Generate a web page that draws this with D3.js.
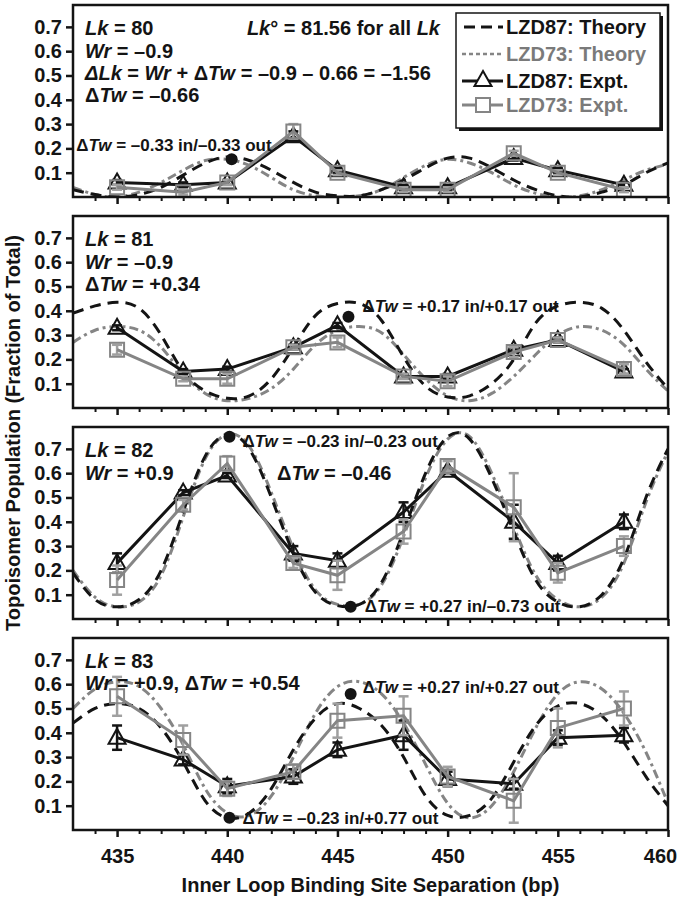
<!DOCTYPE html>
<html><head><meta charset="utf-8">
<script src="https://cdn.jsdelivr.net/npm/d3@7"></script>
<style>
body{margin:0;background:#fff}
svg{display:block}
text{font-family:"Liberation Sans",Arial,Helvetica,sans-serif;font-weight:bold}
</style>
</head><body>
<svg id="c" width="683" height="899"></svg>
<script>
// ---------------- DATA ----------------
const separations = [435, 438, 440, 443, 445, 448, 450, 453, 455, 458];
const theoryBp = [433,434,435,436,437,438,439,440,441,442,443,444,445,446,447,448,449,450,451,452,453,454,455,456,457,458,459,460];
const yTickValues = [0.1, 0.2, 0.3, 0.4, 0.5, 0.6, 0.7];
const xMajorTicks = [435, 440, 445, 450, 455, 460];
const xMinorTicks = [434,436,437,438,439,441,442,443,444,446,447,448,449,451,452,453,454,456,457,458,459];
const seriesNames = ["LZD87: Theory", "LZD73: Theory", "LZD87: Expt.", "LZD73: Expt."];

// Lk = 80
const lk80_lzd87_expt = [0.06, 0.05, 0.06, 0.25, 0.11, 0.04, 0.04, 0.16, 0.11, 0.05];
const lk80_lzd87_err  = [0.01, 0.01, 0.01, 0.02, 0.01, 0.01, 0.01, 0.01, 0.01, 0.01];
const lk80_lzd73_expt = [0.04, 0.02, 0.06, 0.27, 0.10, 0.03, 0.03, 0.18, 0.10, 0.03];
const lk80_lzd73_err  = [0.01, 0.01, 0.01, 0.03, 0.01, 0.01, 0.01, 0.01, 0.01, 0.01];
const lk80_lzd87_theory = [0.03,0.01,0.0,0.01,0.04,0.09,0.14,0.165,0.15,0.11,0.06,0.02,0.005,0.005,0.03,0.07,0.12,0.16,0.16,0.12,0.07,0.03,0.005,0.0,0.02,0.05,0.1,0.14];
const lk80_lzd73_theory = [0.04,0.01,0.0,0.02,0.06,0.11,0.15,0.155,0.13,0.08,0.03,0.005,0.0,0.005,0.03,0.08,0.13,0.155,0.14,0.1,0.05,0.015,0.0,0.005,0.03,0.07,0.11,0.135];
const lk80_dots = [[440.2, 0.155]];

// Lk = 81
const lk81_lzd87_expt = [0.33, 0.15, 0.16, 0.25, 0.34, 0.13, 0.13, 0.24, 0.28, 0.15];
const lk81_lzd87_err  = [0.01, 0.01, 0.01, 0.01, 0.01, 0.01, 0.01, 0.01, 0.01, 0.01];
const lk81_lzd73_expt = [0.24, 0.12, 0.12, 0.25, 0.27, 0.13, 0.11, 0.23, 0.28, 0.16];
const lk81_lzd73_err  = [0.02, 0.01, 0.02, 0.01, 0.02, 0.01, 0.02, 0.02, 0.01, 0.02];
const lk81_lzd87_theory = [0.39,0.42,0.435,0.41,0.3,0.15,0.07,0.04,0.05,0.12,0.25,0.38,0.43,0.43,0.36,0.21,0.09,0.045,0.05,0.1,0.2,0.35,0.42,0.435,0.41,0.32,0.19,0.08];
const lk81_lzd73_theory = [0.27,0.32,0.335,0.32,0.25,0.14,0.06,0.03,0.04,0.08,0.16,0.26,0.32,0.335,0.31,0.22,0.12,0.05,0.03,0.06,0.13,0.22,0.3,0.335,0.32,0.26,0.16,0.07];
const lk81_dots = [[445.5, 0.375]];

// Lk = 82
const lk82_lzd87_expt = [0.23, 0.52, 0.59, 0.27, 0.24, 0.44, 0.61, 0.40, 0.23, 0.40];
const lk82_lzd87_err  = [0.04, 0.01, 0.01, 0.03, 0.03, 0.04, 0.01, 0.07, 0.03, 0.03];
const lk82_lzd73_expt = [0.16, 0.47, 0.64, 0.23, 0.18, 0.36, 0.63, 0.46, 0.19, 0.30];
const lk82_lzd73_err  = [0.06, 0.02, 0.03, 0.02, 0.06, 0.05, 0.02, 0.14, 0.04, 0.04];
const lk82_lzd87_theory = [0.19,0.08,0.05,0.08,0.2,0.44,0.67,0.76,0.7,0.5,0.27,0.11,0.055,0.06,0.15,0.36,0.6,0.75,0.74,0.58,0.36,0.16,0.07,0.05,0.1,0.25,0.5,0.7];
const lk82_lzd73_theory = [0.2,0.09,0.05,0.07,0.18,0.42,0.66,0.76,0.71,0.52,0.29,0.12,0.06,0.06,0.14,0.34,0.58,0.74,0.75,0.6,0.38,0.18,0.08,0.05,0.09,0.23,0.48,0.69];
const lk82_dots = [[440.1, 0.75], [445.6, 0.05]];

// Lk = 83
const lk83_lzd87_expt = [0.38, 0.29, 0.18, 0.22, 0.33, 0.39, 0.21, 0.19, 0.38, 0.39];
const lk83_lzd87_err  = [0.05, 0.02, 0.03, 0.03, 0.03, 0.06, 0.03, 0.02, 0.03, 0.03];
const lk83_lzd73_expt = [0.55, 0.37, 0.17, 0.24, 0.45, 0.47, 0.22, 0.12, 0.42, 0.50];
const lk83_lzd73_err  = [0.08, 0.06, 0.03, 0.03, 0.07, 0.08, 0.04, 0.09, 0.08, 0.07];
const lk83_lzd87_theory = [0.44,0.5,0.52,0.5,0.42,0.28,0.12,0.05,0.07,0.17,0.33,0.46,0.52,0.5,0.43,0.3,0.14,0.06,0.06,0.13,0.28,0.43,0.51,0.52,0.47,0.36,0.22,0.1];
const lk83_lzd73_theory = [0.5,0.58,0.61,0.59,0.5,0.35,0.17,0.07,0.06,0.14,0.3,0.48,0.59,0.61,0.56,0.44,0.27,0.11,0.05,0.1,0.24,0.42,0.56,0.61,0.58,0.48,0.32,0.11];
const lk83_dots = [[445.6, 0.56], [440.1, 0.05]];

// ---------------- LAYOUT ----------------
const W = 683, H = 899;
const left = 73, right = 668;
const panelTop0 = 5, panelStep = 211, panelH = 192;
const FONT = 20, SMALL = 17;
const black = "#141414", gray = "#858585", grayText = "#7a7a7a";

const panels = [
  {t87: lk80_lzd87_theory, t73: lk80_lzd73_theory, e87: lk80_lzd87_expt, r87: lk80_lzd87_err, e73: lk80_lzd73_expt, r73: lk80_lzd73_err, dots: lk80_dots,
   notes: [{x: 85, dy: 25, s: "|Lk| = 80"}, {x: 85, dy: 48, s: "|Wr| = \u20130.9"},
           {x: 85, dy: 70, s: "|\u0394Lk| = |Wr| + \u0394|Tw| = \u20130.9 \u2013 0.66 = \u20131.56"}, {x: 85, dy: 92, s: "\u0394|Tw| = \u20130.66"},
           {x: 440, dy: 25, s: "|Lk|\u00b0 = 81.56 for all |Lk|", anchor: "end"}],
   dotLabels: [{s: "\u0394|Tw| = \u20130.33 in/\u20130.33 out", dx: 40, dy: -8, anchor: "end"}]},
  {t87: lk81_lzd87_theory, t73: lk81_lzd73_theory, e87: lk81_lzd87_expt, r87: lk81_lzd87_err, e73: lk81_lzd73_expt, r73: lk81_lzd73_err, dots: lk81_dots,
   notes: [{x: 85, dy: 25, s: "|Lk| = 81"}, {x: 85, dy: 48, s: "|Wr| = \u20130.9"}, {x: 85, dy: 70, s: "\u0394|Tw| = +0.34"}],
   dotLabels: [{s: "\u0394|Tw| = +0.17 in/+0.17 out", dx: 14, dy: -5}]},
  {t87: lk82_lzd87_theory, t73: lk82_lzd73_theory, e87: lk82_lzd87_expt, r87: lk82_lzd87_err, e73: lk82_lzd73_expt, r73: lk82_lzd73_err, dots: lk82_dots,
   notes: [{x: 85, dy: 25, s: "|Lk| = 82"}, {x: 85, dy: 48, s: "|Wr| = +0.9"}, {x: 277, dy: 48, s: "\u0394|Tw| = \u20130.46"}],
   dotLabels: [{s: "\u0394|Tw| = \u20130.23 in/\u20130.23 out", dx: 13, dy: 10}, {s: "\u0394|Tw| = +0.27 in/\u20130.73 out", dx: 14, dy: 5}]},
  {t87: lk83_lzd87_theory, t73: lk83_lzd73_theory, e87: lk83_lzd87_expt, r87: lk83_lzd87_err, e73: lk83_lzd73_expt, r73: lk83_lzd73_err, dots: lk83_dots,
   notes: [{x: 85, dy: 25, s: "|Lk| = 83"}, {x: 85, dy: 47, s: "|Wr| = +0.9, \u0394|Tw| = +0.54"}],
   dotLabels: [{s: "\u0394|Tw| = +0.27 in/+0.27 out", dx: 12, dy: -1}, {s: "\u0394|Tw| = \u20130.23 in/+0.77 out", dx: 13, dy: 6}]}
];

const svg = d3.select("#c");
svg.append("rect").attr("width", W).attr("height", H).attr("fill", "#fff");
const x = d3.scaleLinear().domain([433, 460]).range([left, right]);

function rich(sel, str) {
  str.split("|").forEach((seg, i) => {
    if (seg.length) sel.append("tspan").attr("font-style", i % 2 ? "italic" : "normal").text(seg);
  });
}

const triPath = "M0,-9L8.5,6L-8.5,6Z";
const sqPath = "M-7,-7H7V7H-7Z";

panels.forEach((p, i) => {
  const top = panelTop0 + i * panelStep, bottom = top + panelH;
  const y = d3.scaleLinear().domain([0, 0.79]).range([bottom, top]);
  const g = svg.append("g");
  const clipId = "clip" + i;
  g.append("clipPath").attr("id", clipId).append("rect")
    .attr("x", left).attr("y", top).attr("width", right - left).attr("height", panelH);

  // axes
  const yAx = g.append("g").attr("transform", `translate(${left},0)`)
    .call(d3.axisLeft(y).tickValues(yTickValues).tickSize(7).tickPadding(4).tickFormat(d3.format(".1f")));
  yAx.select(".domain").remove();
  yAx.selectAll("line").attr("stroke", black).attr("stroke-width", 2.5);
  yAx.selectAll("text").attr("font-size", FONT).attr("fill", black).attr("font-family", '"Liberation Sans",Arial,sans-serif').attr("font-weight", "bold");

  const xMaj = g.append("g").attr("transform", `translate(0,${bottom})`)
    .call(d3.axisBottom(x).tickValues(xMajorTicks).tickSize(7).tickPadding(12)
      .tickFormat(i === 3 ? d3.format("d") : () => ""));
  xMaj.select(".domain").remove();
  xMaj.selectAll("line").attr("stroke", black).attr("stroke-width", 2.5);
  xMaj.selectAll("text").attr("font-size", FONT).attr("fill", black).attr("font-family", '"Liberation Sans",Arial,sans-serif').attr("font-weight", "bold")
    .attr("dx", d => d === 460 ? -8 : 0);
  const xMin = g.append("g").attr("transform", `translate(0,${bottom})`)
    .call(d3.axisBottom(x).tickValues(xMinorTicks).tickSize(4).tickFormat(() => ""));
  xMin.select(".domain").remove();
  xMin.selectAll("line").attr("stroke", black).attr("stroke-width", 2);

  const plot = g.append("g").attr("clip-path", `url(#${clipId})`);
  const tLine = d3.line().x((d, k) => x(theoryBp[k])).y(d => y(d)).curve(d3.curveNatural);
  plot.append("path").attr("d", tLine(p.t73)).attr("fill", "none").attr("stroke", gray)
    .attr("stroke-width", 3).attr("stroke-dasharray", "9,4,3,4");
  plot.append("path").attr("d", tLine(p.t87)).attr("fill", "none").attr("stroke", black)
    .attr("stroke-width", 3).attr("stroke-dasharray", "11,7");

  const eLine = d3.line().x((d, k) => x(separations[k])).y(d => y(d));
  function series(vals, errs, color, errColor, shape) {
    const sg = plot.append("g");
    vals.forEach((v, k) => {
      const cx = x(separations[k]);
      sg.append("line").attr("x1", cx).attr("x2", cx).attr("y1", y(v - errs[k])).attr("y2", y(v + errs[k]))
        .attr("stroke", errColor).attr("stroke-width", 2.5);
      [v - errs[k], v + errs[k]].forEach(e => sg.append("line").attr("x1", cx - 5).attr("x2", cx + 5)
        .attr("y1", y(e)).attr("y2", y(e)).attr("stroke", errColor).attr("stroke-width", 2.5));
    });
    sg.append("path").attr("d", eLine(vals)).attr("fill", "none").attr("stroke", color).attr("stroke-width", 3);
    sg.selectAll("path.m").data(vals).enter().append("path").attr("class", "m")
      .attr("d", shape).attr("transform", (d, k) => `translate(${x(separations[k])},${y(d)})`)
      .attr("fill", "none").attr("stroke", color).attr("stroke-width", 2);
  }
  series(p.e87, p.r87, black, black, triPath);
  series(p.e73, p.r73, gray, "#a0a0a0", sqPath);

  // frame
  g.append("rect").attr("x", left).attr("y", top).attr("width", right - left).attr("height", panelH)
    .attr("fill", "none").attr("stroke", black).attr("stroke-width", 2.5);

  // dots & labels
  p.dots.forEach((d, k) => {
    const cx = x(d[0]), cy = y(d[1]);
    g.append("circle").attr("cx", cx).attr("cy", cy).attr("r", 6).attr("fill", black);
    const L = p.dotLabels[k];
    const t = g.append("text").attr("x", cx + L.dx).attr("y", cy + L.dy).attr("font-size", SMALL)
      .attr("fill", black).attr("text-anchor", L.anchor || "start");
    rich(t, L.s);
  });

  // notes
  p.notes.forEach(n => {
    const t = g.append("text").attr("x", n.x).attr("y", top + n.dy + 5).attr("font-size", FONT)
      .attr("fill", black).attr("text-anchor", n.anchor || "start");
    rich(t, n.s);
  });

  // legend in first panel
  if (i === 0) {
    const lg = g.append("g");
    const lx = 456, ly = 13, lw = 204, lh = 115;
    lg.append("rect").attr("x", lx + 3).attr("y", ly + 3).attr("width", lw).attr("height", lh).attr("fill", black);
    lg.append("rect").attr("x", lx).attr("y", ly).attr("width", lw).attr("height", lh).attr("fill", "#fff")
      .attr("stroke", black).attr("stroke-width", 1.5);
    const rows = [27, 54, 81, 105];
    const colors = [black, grayText, black, grayText];
    seriesNames.forEach((nm, k) => {
      const ry = rows[k];
      const ln = lg.append("line").attr("x1", 462).attr("x2", 503).attr("y1", ry).attr("y2", ry)
        .attr("stroke-width", 3).attr("stroke", k % 2 ? gray : black);
      if (k === 0) ln.attr("stroke-dasharray", "11,6").attr("x1", 464);
      if (k === 1) ln.attr("stroke-dasharray", "4,3").attr("stroke-width", 2.5);
      if (k === 2) lg.append("path").attr("d", triPath).attr("transform", `translate(483,${ry - 1})`)
        .attr("fill", "#fff").attr("stroke", black).attr("stroke-width", 2);
      if (k === 3) lg.append("path").attr("d", sqPath).attr("transform", `translate(483,${ry})`)
        .attr("fill", "#fff").attr("stroke", gray).attr("stroke-width", 2);
      lg.append("text").attr("x", 506).attr("y", ry + 7).attr("font-size", FONT).attr("fill", colors[k]).text(nm);
    });
  }
});

// axis titles
svg.append("text").attr("x", (left + right) / 2).attr("y", 892).attr("text-anchor", "middle")
  .attr("font-size", FONT).attr("fill", black).text("Inner Loop Binding Site Separation (bp)");
svg.append("text").attr("transform", "translate(20,433) rotate(-90)").attr("text-anchor", "middle")
  .attr("font-size", FONT).attr("fill", black).text("Topoisomer Population (Fraction of Total)");
</script>
</body></html>
